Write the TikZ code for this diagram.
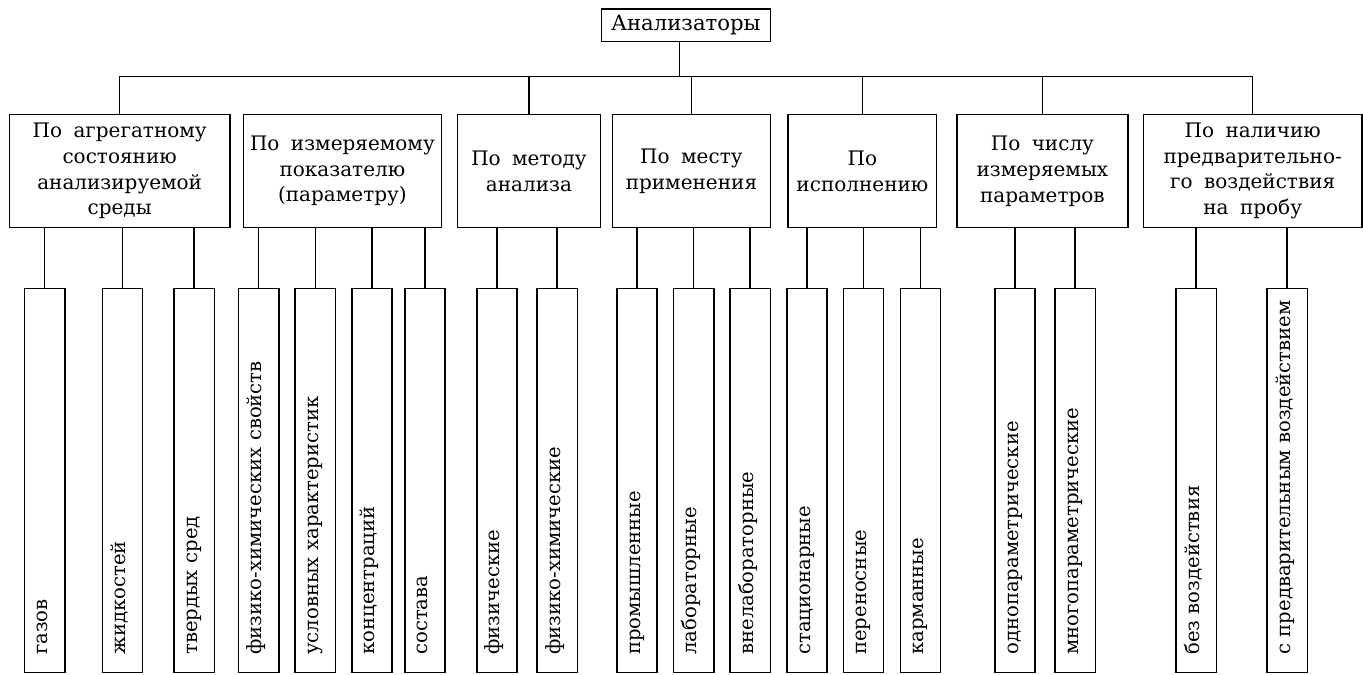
\documentclass[tikz,border=0pt]{standalone}
\usepackage{fontspec}
\setmainfont{DejaVu Serif}[WordSpace=1.8]

\tikzset{
  link/.style={line width=0.75pt},
  box/.style={draw, line width=0.75pt, inner sep=0pt, align=center,
    font=\fontsize{10pt}{12.9pt}\selectfont},
  group/.style={box, minimum height=56.3pt},
  leaf/.style={draw, line width=0.75pt, rotate=90,
    minimum width=191.9pt, minimum height=20.15pt,
    inner xsep=8.9pt, inner ysep=0pt, text width=174.1pt, align=left,
    text height=7pt, text depth=4pt,
    font=\fontsize{9.8pt}{12pt}\selectfont}
}

\begin{document}
\begin{tikzpicture}[x=0.5pt, y=-0.5pt]
      \useasboundingbox (0,0) rectangle (1363,674);
      \coordinate (bus) at (0, 76.7);

      \node [box, minimum width=84.5pt, minimum height=16.35pt, font=\fontsize{10.6pt}{13pt}\selectfont] (top) at (685.8, 25.4) {Анализаторы};

      \node [group, minimum width=110.25pt] (agr)  at (119.65, 171) {По агрегатному\\состоянию\\анализируемой\\среды};
      \node [group, minimum width=99.1pt]   (izm)  at (342.4, 171)  {По измеряемому\\показателю\\(параметру)};
      \node [group, minimum width=71.4pt]   (met)  at (529, 171)    {По методу\\анализа};
      \node [group, minimum width=78.9pt]   (mes)  at (691.4, 171)  {По месту\\применения};
      \node [group, minimum width=74.2pt]   (isp)  at (862.4, 171)  {По\\исполнению};
      \node [group, minimum width=85.6pt]   (chis) at (1042.4, 171) {По числу\\измеряемых\\параметров};
      \node [group, minimum width=109.35pt] (nal)  at (1252.65, 171) {По наличию\\предварительно-\\го воздействия\\на пробу};

      \draw [link] ([xshift=-3.15pt]top.south) -- ([xshift=-3.15pt]top.south |- bus);
      \draw [link] (agr.north) -- (agr.north |- bus) -- (nal.north |- bus) -- (nal.north);
      \foreach \c in {met, mes, isp, chis}
        \draw [link] (\c.north) -- (\c.north |- bus);

      \foreach \n/\x/\p/\t in {
          gaz/44.65/agr/газов,
          zhid/122.55/agr/жидкостей,
          tverd/194.2/agr/твердых~сред,
          fhsv/258.7/izm/физико-химических~свойств,
          usl/315.35/izm/условных~характеристик,
          konc/371.9/izm/концентраций,
          sost/424.95/izm/состава,
          fiz/496.9/met/физические,
          fizhim/557.1/met/физико-химические,
          prom/637/mes/промышленные,
          lab/693.6/mes/лабораторные,
          vnelab/750.15/mes/внелабораторные,
          stac/807.05/isp/стационарные,
          pern/863.55/isp/переносные,
          karm/920.45/isp/карманные,
          odno/1015.05/chis/однопараметрические,
          mnogo/1075.15/chis/многопараметрические,
          bez/1196.15/nal/без~воздействия,
          spred/1287.15/nal/с~предварительным~воздействием} {
        \node [leaf] (\n) at (\x, 480.6) {\t};
        \draw [link] (\n.east) -- (\n.east |- \p.south);
      }
\end{tikzpicture}
\end{document}
